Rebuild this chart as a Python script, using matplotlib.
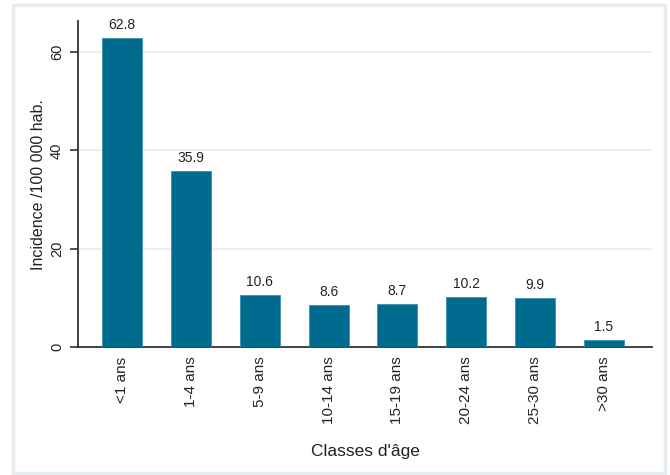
import matplotlib
matplotlib.use("Agg")
import matplotlib.pyplot as plt
from matplotlib.patches import Rectangle

plt.rcParams['font.family'] = ['Liberation Sans', 'DejaVu Sans']

categories = ["<1 ans", "1-4 ans", "5-9 ans", "10-14 ans", "15-19 ans", "20-24 ans", "25-30 ans", ">30 ans"]
incidence = [62.8, 35.9, 10.6, 8.6, 8.7, 10.2, 9.9, 1.5]
yticks = [0, 20, 40, 60]

BAR = "#006b8f"
fig = plt.figure(figsize=(6.7, 4.75), dpi=100)
fig.patches.append(Rectangle((0.02, 0.005), 0.972, 0.985, transform=fig.transFigure,
                             fill=False, edgecolor="#e6edf1", linewidth=2.5))
ax = fig.add_axes([0.1164, 0.2695, 0.857, 0.686])
x = range(len(categories))
ax.bar(x, incidence, width=0.58, color=BAR, edgecolor="#3b8fb0", linewidth=0.6, zorder=3)
for xi, v in zip(x, incidence):
    ax.text(xi, v + 1.2, f"{v}", ha="center", va="bottom", fontsize=10, color="#222222")

ax.set_xlim(-0.64, 7.7)
ax.set_ylim(0, 66.3)
ax.set_yticks(yticks)
ax.set_yticklabels([str(t) for t in yticks], rotation=90, va="center", fontsize=10.5, color="#222222")
ax.set_xticks(list(x))
ax.set_xticklabels(categories, rotation=90, fontsize=11, color="#222222")
ax.tick_params(axis="x", length=0, pad=7)
ax.tick_params(axis="y", length=6, width=1.2, color="#333333", pad=4)
ax.grid(axis="y", color="#e3ecf1", linewidth=1.2, zorder=0)
for s in ["top", "right"]:
    ax.spines[s].set_visible(False)
for s in ["left", "bottom"]:
    ax.spines[s].set_color("#333333")
    ax.spines[s].set_linewidth(1.3)
ax.set_ylabel("Incidence /100 000 hab.", fontsize=11.5, color="#222222", labelpad=3)
ax.set_xlabel("Classes d'âge", fontsize=12.5, color="#222222", labelpad=14)

fig.savefig("out.png", dpi=100)
